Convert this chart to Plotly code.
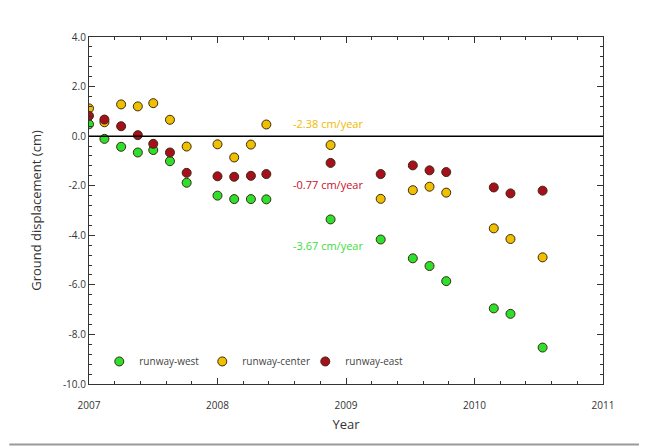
import plotly.graph_objects as go

# Dates (decimal year) and displacement (cm)
west_x = [2007.0, 2007.12, 2007.25, 2007.38, 2007.5, 2007.63, 2007.76, 2008.0, 2008.13, 2008.26, 2008.38,
          2008.88, 2009.27, 2009.52, 2009.65, 2009.78, 2010.15, 2010.28, 2010.53]
west_y = [0.48, -0.11, -0.43, -0.66, -0.56, -1.01, -1.88, -2.40, -2.54, -2.54, -2.55,
          -3.36, -4.17, -4.93, -5.24, -5.85, -6.95, -7.17, -8.53]

center_x = [2007.0, 2007.12, 2007.25, 2007.38, 2007.5, 2007.63, 2007.76, 2008.0, 2008.13, 2008.26, 2008.38,
            2008.88, 2009.27, 2009.52, 2009.65, 2009.78, 2010.15, 2010.28, 2010.53]
center_y = [1.12, 0.56, 1.28, 1.20, 1.33, 0.66, -0.42, -0.33, -0.86, -0.34, 0.47,
            -0.36, -2.53, -2.18, -2.04, -2.28, -3.72, -4.15, -4.89]

east_x = [2007.0, 2007.12, 2007.25, 2007.38, 2007.5, 2007.63, 2007.76, 2008.0, 2008.13, 2008.26, 2008.38,
          2008.88, 2009.27, 2009.52, 2009.65, 2009.78, 2010.15, 2010.28, 2010.53]
east_y = [0.82, 0.67, 0.40, 0.04, -0.31, -0.66, -1.48, -1.62, -1.64, -1.60, -1.53,
          -1.08, -1.53, -1.18, -1.38, -1.45, -2.07, -2.31, -2.20]

series_names = ["runway-west", "runway-center", "runway-east"]
series_colors = ["#2ee02e", "#f0c000", "#a80f1c"]
rates = ["-3.67 cm/year", "-2.38 cm/year", "-0.77 cm/year"]
rate_colors = ["#3ade3a", "#f2b800", "#c8102a"]
rate_pos_y = [-4.4, 0.5, -1.95]
rate_pos_x = [2008.57, 2008.57, 2008.57]

y_ticks = [4.0, 2.0, 0.0, -2.0, -4.0, -6.0, -8.0, -10.0]
x_ticks = [2007, 2008, 2009, 2010, 2011]

fig = go.Figure()
for xs, ys, name, col in zip([west_x, center_x, east_x], [west_y, center_y, east_y], series_names, series_colors):
    fig.add_trace(go.Scatter(
        x=xs, y=ys, mode="markers", name=name,
        marker=dict(size=9, color=col, line=dict(color="#3a2a10", width=1)),
    ))

for txt, col, yy, xx in zip(rates, rate_colors, rate_pos_y, rate_pos_x):
    fig.add_annotation(x=xx, y=yy, text=txt, showarrow=False, xanchor="left",
                       font=dict(color=col, size=11, family="Open Sans"))

# zero line
fig.add_shape(type="line", xref="paper", x0=0, x1=1, yref="y", y0=0, y1=0,
              line=dict(color="black", width=1.5))
# bottom border line
fig.add_shape(type="line", xref="paper", x0=-0.155, x1=1.07, yref="paper", y0=-0.174, y1=-0.174,
              line=dict(color="#9a9a9a", width=2))

axis_common = dict(showline=True, linecolor="#333", linewidth=1.2, mirror="ticks",
                   ticks="inside", ticklen=6, tickwidth=1.2, tickcolor="#333",
                   showgrid=False, zeroline=False,
                   tickfont=dict(size=10, color="#333", family="Open Sans"))

fig.update_xaxes(range=[2007, 2011], tickvals=x_ticks, ticktext=[str(v) for v in x_ticks],
                 minor=dict(dtick=0.2, ticks="inside", ticklen=3, tickcolor="#333", showgrid=False),
                 ticklabelstandoff=12,
                 title=dict(text="Year", font=dict(size=13, color="#333", family="Open Sans"), standoff=8),
                 **axis_common)
fig.update_yaxes(range=[-10, 4], tickvals=y_ticks, ticktext=[f"{v:.1f}" for v in y_ticks],
                 minor=dict(dtick=0.4, ticks="inside", ticklen=3, tickcolor="#333", showgrid=False),
                 title=dict(text="Ground displacement (cm)", font=dict(size=13, color="#333", family="Open Sans"), standoff=18),
                 **axis_common)

fig.update_layout(
    width=652, height=446,
    margin=dict(l=81, r=57, t=29, b=70),
    plot_bgcolor="white", paper_bgcolor="white",
    showlegend=True,
    legend=dict(orientation="h", x=0.02, y=0.065, xanchor="left", yanchor="middle",
                bgcolor="rgba(0,0,0,0)", font=dict(size=10, color="#444", family="Open Sans"),
                itemwidth=30, entrywidth=58, tracegroupgap=0),
)

fig.write_html("out.html")
